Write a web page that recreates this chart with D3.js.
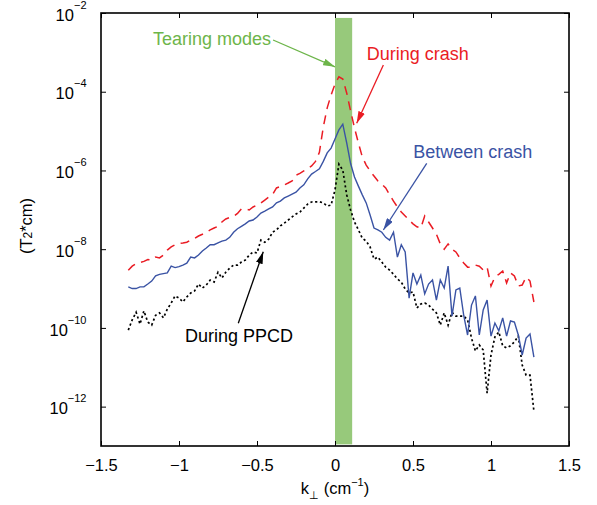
<!DOCTYPE html>
<html>
<head>
<meta charset="utf-8">
<script src="https://cdn.jsdelivr.net/npm/d3@7"></script>
<style>
body { margin: 0; background: #fff; }
text { font-family: Helvetica, Arial, "Liberation Sans", sans-serif; }
</style>
</head>
<body>
<div id="chart"></div>
<script>
// k_perp grid (cm^-1)
const kPerp = [-1.325,-1.3,-1.275,-1.25,-1.225,-1.2,-1.175,-1.15,-1.125,-1.1,-1.075,-1.05,-1.025,-1,-0.975,-0.95,-0.925,-0.9,-0.875,-0.85,-0.825,-0.8,-0.775,-0.75,-0.725,-0.7,-0.675,-0.65,-0.625,-0.6,-0.575,-0.55,-0.525,-0.5,-0.475,-0.45,-0.425,-0.4,-0.375,-0.35,-0.325,-0.3,-0.275,-0.25,-0.225,-0.2,-0.175,-0.15,-0.125,-0.1,-0.075,-0.05,-0.025,0,0.025,0.05,0.075,0.1,0.125,0.15,0.175,0.2,0.225,0.25,0.275,0.3,0.325,0.35,0.375,0.4,0.425,0.45,0.475,0.5,0.525,0.55,0.575,0.6,0.625,0.65,0.675,0.7,0.725,0.75,0.775,0.8,0.825,0.85,0.875,0.9,0.925,0.95,0.975,1,1.025,1.05,1.075,1.1,1.125,1.15,1.175,1.2,1.225,1.25,1.275];

const duringCrash = [
  2.9e-9, 3.7e-9, 4.3e-9, 4.6e-9, 4.9e-9, 5.45e-9, 5.3e-9, 6.3e-9, 6.0e-9, 7.1e-9,
  9.5e-9, 1.14e-8, 1.3e-8, 1.4e-8, 1.44e-8, 1.5e-8, 1.7e-8, 1.87e-8, 2.16e-8, 2.4e-8,
  2.7e-8, 3.1e-8, 3.45e-8, 3.8e-8, 4.9e-8, 5.85e-8, 6.4e-8, 6.8e-8, 8.1e-8, 1.05e-7,
  1.05e-7, 9.9e-8, 1.18e-7, 1.32e-7, 1.5e-7, 1.77e-7, 2.1e-7, 2.45e-7, 3.6e-7, 3.9e-7,
  4.3e-7, 4.8e-7, 5.4e-7, 7.6e-7, 8.4e-7, 9.7e-7, 1.12e-6, 1.3e-6, 1.7e-6, 2.9e-6,
  1.27e-5, 3.9e-5, 8.3e-5, 1.57e-4, 2.4e-4, 2.1e-4, 9.3e-5, 3.25e-5, 1.2e-5, 5.0e-6,
  2.2e-6, 1.37e-6, 9.7e-7, 7.2e-7, 5.4e-7, 4.5e-7, 3.6e-7, 2.4e-7, 1.67e-7, 1.18e-7,
  8.8e-8, 7.0e-8, 5.5e-8, 4.4e-8, 3.7e-8, 3.45e-8, 7.0e-8, 4.9e-8, 3.45e-8, 2.4e-8,
  1.36e-8, 1.0e-8, 1.36e-8, 1.0e-8, 8.5e-9, 6.0e-9, 4.45e-9, 3.5e-9, 3.5e-9, 3.95e-9,
  3.7e-9, 2.95e-9, 3.5e-9, 1.16e-9, 1.96e-9, 2.3e-9, 2.8e-9, 1.38e-9, 2.5e-9, 2.1e-9,
  1.16e-9, 1.23e-9, 1.96e-9, 1.55e-9, 4.55e-10
];

const betweenCrash = [
  1.1e-9, 1.0e-9, 1.0e-9, 1.1e-9, 1.1e-9, 1.3e-9, 1.55e-9, 2.1e-9, 2.3e-9, 2.4e-9,
  2.5e-9, 3.7e-9, 3.4e-9, 3.6e-9, 3.95e-9, 4.4e-9, 6.3e-9, 6.0e-9, 7.1e-9, 9.0e-9,
  1.07e-8, 1.3e-8, 1.3e-8, 1.44e-8, 1.6e-8, 1.7e-8, 2.0e-8, 2.7e-8, 3.3e-8, 3.8e-8,
  4.4e-8, 5.2e-8, 5.5e-8, 6.6e-8, 8.3e-8, 9.3e-8, 1.05e-7, 1.18e-7, 1.5e-7, 1.67e-7,
  2.0e-7, 2.24e-7, 2.5e-7, 2.8e-7, 3.6e-7, 4.3e-7, 6.1e-7, 8.1e-7, 9.4e-7, 1.1e-6,
  1.7e-6, 2.8e-6, 3.7e-6, 6.3e-6, 1.07e-5, 1.5e-5, 5.0e-6, 1.5e-6, 6.8e-7, 4.0e-7,
  2.4e-7, 1.5e-7, 7.4e-8, 3.45e-8, 3.1e-8, 2.7e-8, 2.0e-8, 1.7e-8, 2.7e-8, 6.3e-9,
  1.3e-8, 8.5e-9, 5.7e-10, 2.5e-9, 1.3e-9, 2.2e-9, 7.3e-10, 1.3e-9, 1.65e-9, 5.1e-10,
  1.65e-9, 1.03e-9, 3.7e-9, 2.0e-10, 9.2e-10, 1.03e-9, 2.1e-10, 6.6e-11, 3.8e-10, 6.5e-10,
  6.6e-11, 2.85e-10, 5.1e-10, 6.2e-11, 1.33e-10, 8.4e-11, 1.8e-10, 6.2e-11, 1.5e-10, 1.4e-10,
  6.6e-11, 2.05e-11, 5.5e-11, 7.0e-11, 1.8e-11
];

const duringPPCD = [
  8.8e-11, 1.6e-10, 2.5e-10, 1.25e-10, 2.7e-10, 1.4e-10, 1.18e-10, 2.1e-10, 2.4e-10, 1.8e-10,
  3.0e-10, 4.3e-10, 6.5e-10, 5.75e-10, 4.55e-10, 6.1e-10, 7.7e-10, 8.7e-10, 1.3e-9, 1.03e-9,
  1.23e-9, 1.64e-9, 1.46e-9, 2.6e-9, 1.85e-9, 2.6e-9, 3.3e-9, 3.95e-9, 3.95e-9, 4.7e-9,
  5.3e-9, 7.1e-9, 8.5e-9, 8.0e-9, 1.7e-8, 1.5e-8, 1.8e-8, 2.7e-8, 3.1e-8, 3.9e-8,
  4.6e-8, 5.5e-8, 6.6e-8, 7.8e-8, 8.8e-8, 1.11e-7, 1.4e-7, 1.58e-7, 1.6e-7, 1.6e-7,
  1.5e-7, 1.25e-7, 1.32e-7, 3.2e-7, 1.45e-6, 1.02e-6, 2.4e-7, 9.9e-8, 4.9e-8, 3.1e-8,
  1.9e-8, 1.6e-8, 1.14e-8, 5.6e-9, 6.3e-9, 4.7e-9, 3.5e-9, 2.95e-9, 2.3e-9, 1.75e-9,
  1.46e-9, 9.7e-10, 7.7e-10, 8.2e-10, 3.2e-10, 4.05e-10, 4.3e-10, 3.8e-10, 3.0e-10, 2.4e-10,
  1.18e-10, 2.4e-10, 1.18e-10, 2.5e-10, 2.0e-10, 2.0e-10, 2.0e-10, 1.6e-10, 5.5e-11, 2.6e-11,
  3.7e-11, 2.75e-11, 2.2e-12, 2.05e-11, 5.9e-11, 7.9e-11, 3.5e-11, 3.1e-11, 3.5e-11, 4.4e-11,
  6.2e-11, 1.14e-11, 6.3e-12, 6.3e-12, 7.7e-13
];

const xTicks = [-1.5, -1, -0.5, 0, 0.5, 1, 1.5];
const yTicks = [1e-12, 1e-10, 1e-8, 1e-6, 1e-4, 1e-2];

// tearing mode band
const bandK = [0, 0.11];
const bandY = [1.1e-13, 7.5e-3];

// annotation text anchor and arrow (from -> to), data coords
const notes = [
  {text: "Tearing modes", color: "#6db54a", at: [-1.167, 1.54e-3], from: [-0.397, 2.06e-3], to: [0, 4.3e-4]},
  {text: "During crash", color: "#ea1c24", at: [0.203, 6.4e-4], from: [0.31, 4.8e-4], to: [0.139, 1.58e-5]},
  {text: "Between crash", color: "#3a53a4", at: [0.502, 2.07e-6], from: [0.588, 1.52e-6], to: [0.31, 3.07e-8]},
  {text: "During PPCD", color: "#000", at: [-0.962, 4.46e-11], from: [-0.62, 1.31e-10], to: [-0.46, 8.6e-9]}
];

const margin = {top: 13, right: 28, bottom: 59, left: 101};
const width = 597 - margin.left - margin.right;
const height = 505 - margin.top - margin.bottom;

const svgRoot = d3.select("#chart").append("svg")
    .attr("width", 597)
    .attr("height", 505);

const defs = svgRoot.append("defs");
notes.forEach((n, i) => {
    defs.append("marker")
        .attr("id", "arr" + i)
        .attr("markerUnits", "userSpaceOnUse")
        .attr("markerWidth", 12).attr("markerHeight", 7)
        .attr("refX", 12).attr("refY", 3.5)
        .attr("orient", "auto")
        .append("path")
        .attr("d", "M0,0 L12,3.5 L0,7 Z")
        .attr("fill", n.color);
});

const svg = svgRoot.append("g")
    .attr("transform", "translate(" + margin.left + "," + margin.top + ")");

const x = d3.scaleLinear().domain([-1.5, 1.5]).range([0, width]);
const y = d3.scaleLog().domain([1e-13, 1e-2]).range([height, 0]);

// green band
svg.append("rect")
    .attr("x", x(bandK[0]))
    .attr("y", y(bandY[1]))
    .attr("width", x(bandK[1]) - x(bandK[0]))
    .attr("height", y(bandY[0]) - y(bandY[1]))
    .attr("fill", "#97c97b");

const line = d3.line().x(d => x(d[0])).y(d => y(d[1]));
const series = [
    {vals: duringCrash, color: "#ea1c24", dash: "9,6.5", w: 1.5},
    {vals: duringPPCD, color: "#000", dash: "2.2,2.6", w: 1.7},
    {vals: betweenCrash, color: "#3a53a4", dash: null, w: 1.4}
];
series.forEach(s => {
    svg.append("path")
        .datum(kPerp.map((k, i) => [k, s.vals[i]]))
        .attr("fill", "none")
        .attr("stroke", s.color)
        .attr("stroke-width", s.w)
        .attr("stroke-dasharray", s.dash)
        .attr("d", line);
});

// axes, ticks pointing inward
const xAxis = svg.append("g")
    .attr("transform", "translate(0," + height + ")")
    .call(d3.axisBottom(x).tickValues(xTicks).tickSize(-5).tickPadding(13)
        .tickFormat(d => d3.format("")(d).replace("-", "\u2212")));
svg.append("g").call(d3.axisTop(x).tickValues(xTicks).tickSize(-5).tickFormat(""));
svg.append("g")
    .call(d3.axisLeft(y).tickValues(yTicks).tickSize(-5).tickFormat(""));
svg.append("g")
    .attr("transform", "translate(" + width + ",0)")
    .call(d3.axisRight(y).tickValues(yTicks).tickSize(-5).tickFormat(""));

svg.selectAll(".domain").remove();
svg.selectAll(".tick line").attr("stroke", "#000").attr("stroke-width", 1);
xAxis.selectAll("text").attr("font-size", 16.5).attr("fill", "#000")
    .style("font-family", "Helvetica, Arial, 'Liberation Sans', sans-serif");

// y tick labels 10^n
yTicks.forEach(t => {
    const e = Math.round(Math.log10(t));
    const txt = svg.append("text")
        .attr("x", -14.5)
        .attr("y", y(t) + 7.6)
        .attr("text-anchor", "end")
        .attr("font-size", 16.5);
    txt.append("tspan").text("10");
    txt.append("tspan").attr("font-size", 11).attr("dy", -12).text("\u2212" + Math.abs(e));
});

// frame
svg.append("rect")
    .attr("width", width).attr("height", height)
    .attr("fill", "none").attr("stroke", "#000").attr("stroke-width", 1.6);

// x label
const xl = svg.append("text")
    .attr("x", width / 2)
    .attr("y", height + 48)
    .attr("text-anchor", "middle")
    .attr("font-size", 16.5);
xl.append("tspan").text("k");
xl.append("tspan").attr("font-size", 11).attr("dy", 5).text("\u22a5");
xl.append("tspan").attr("dy", -5).text(" (cm");
xl.append("tspan").attr("font-size", 11).attr("dy", -8).text("\u22121");
xl.append("tspan").attr("dy", 8).text(")");

// y label
const yl = svgRoot.append("text")
    .attr("transform", "translate(31.5,226) rotate(-90)")
    .attr("text-anchor", "middle")
    .attr("font-size", 16.5);
yl.append("tspan").text("(T");
yl.append("tspan").attr("font-size", 12).text("2");
yl.append("tspan").text("*cm)");

// annotations
notes.forEach((n, i) => {
    svg.append("text")
        .attr("x", x(n.at[0]))
        .attr("y", y(n.at[1]))
        .attr("font-size", 18)
        .attr("fill", n.color)
        .text(n.text);
    svg.append("line")
        .attr("x1", x(n.from[0])).attr("y1", y(n.from[1]))
        .attr("x2", x(n.to[0])).attr("y2", y(n.to[1]))
        .attr("stroke", n.color)
        .attr("stroke-width", 1.3)
        .attr("marker-end", "url(#arr" + i + ")");
});
</script>
</body>
</html>
